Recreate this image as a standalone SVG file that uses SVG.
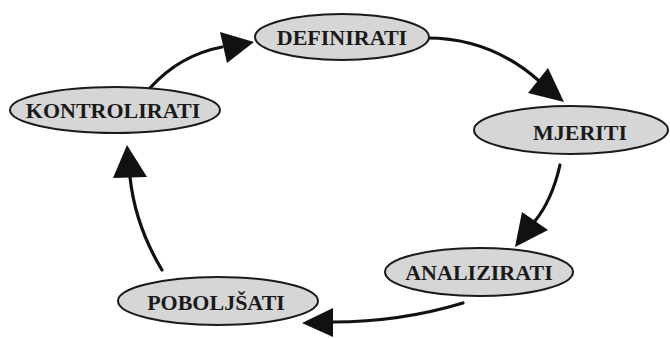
<svg xmlns="http://www.w3.org/2000/svg" width="670" height="338" viewBox="0 0 670 338">
<style>
.node ellipse{fill:#d6d6d6;stroke:#1a1a1a;stroke-width:2}
.node text{font-family:"Liberation Serif","Times New Roman",serif;font-weight:bold;font-size:22px;fill:#1a1a1a;text-anchor:middle}
.line{fill:none;stroke:#111;stroke-width:3.2;stroke-linecap:round}
.head{fill:#111}
</style>
<rect width="670" height="338" fill="#fff"/>
<g id="connectors">
<path class="line" d="M150,88 Q180,55 222,47"/>
<polygon class="head" points="220,32 227,63 254,42"/>
<path class="line" d="M427,38 Q490,38 538,80"/>
<polygon class="head" points="548,68 528,93 564,102"/>
<path class="line" d="M560,165 Q552,200 535,221"/>
<polygon class="head" points="522,212 548,230 515,247"/>
<path class="line" d="M463,303 Q400,322 333,322"/>
<polygon class="head" points="333,308 333,337 302,323"/>
<path class="line" d="M162,270 Q135,225 130,177"/>
<polygon class="head" points="113,178 147,177 127,145"/>
</g>
<g id="definirati" class="node">
<ellipse cx="342" cy="37" rx="87" ry="23"/>
<text x="342" y="45">DEFINIRATI</text>
</g>
<g id="kontrolirati" class="node">
<ellipse cx="115" cy="110" rx="105" ry="23"/>
<text x="113" y="118">KONTROLIRATI</text>
</g>
<g id="mjeriti" class="node">
<ellipse cx="571" cy="130" rx="97" ry="24"/>
<text x="580" y="140">MJERITI</text>
</g>
<g id="analizirati" class="node">
<ellipse cx="479" cy="272" rx="94" ry="24"/>
<text x="479" y="280">ANALIZIRATI</text>
</g>
<g id="poboljsati" class="node">
<ellipse cx="218" cy="301" rx="100" ry="24"/>
<text x="216" y="310">POBOLJŠATI</text>
</g>
</svg>
